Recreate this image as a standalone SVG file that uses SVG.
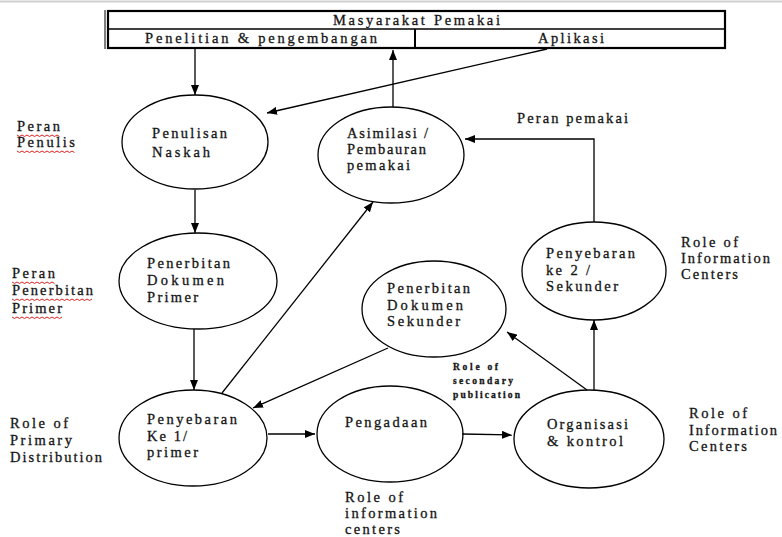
<svg xmlns="http://www.w3.org/2000/svg" width="782" height="537" viewBox="0 0 782 537">
<defs>
<marker id="arr" viewBox="0 0 10 8" refX="10" refY="4" markerWidth="10" markerHeight="8" markerUnits="userSpaceOnUse" orient="auto">
<path d="M0,0 L10,4 L0,8 z" fill="#000"/>
</marker>
<style>
text{font-family:"Liberation Serif","Times New Roman",serif;font-size:14.5px;fill:#151515;stroke:#151515;stroke-width:0.3;}
.sm{font-size:9.5px;font-weight:bold;}
.node ellipse{fill:none;stroke:#000;stroke-width:1.3;}
#connectors line,#connectors polyline{fill:none;stroke:#000;stroke-width:1.3;marker-end:url(#arr);}
.wavy{fill:none;stroke:#e02020;stroke-width:1;}
</style>
</defs>
<rect width="782" height="537" fill="#fff"/>
<line x1="0" y1="1.5" x2="782" y2="1.5" stroke="#d0d0d0" stroke-width="2"/>

<g id="table">
<rect x="108" y="11" width="617" height="37" fill="none" stroke="#000" stroke-width="2.2"/>
<line x1="105" y1="10" x2="105" y2="49" stroke="#000" stroke-width="1"/>
<line x1="108" y1="29" x2="725" y2="29" stroke="#000" stroke-width="1.6"/>
<line x1="415" y1="29" x2="415" y2="48" stroke="#000" stroke-width="2"/>
<text x="333" y="25" textLength="167" lengthAdjust="spacing">Masyarakat Pemakai</text>
<text x="145" y="43" textLength="232" lengthAdjust="spacing">Penelitian &amp; pengembangan</text>
<text x="538" y="43" textLength="66" lengthAdjust="spacing">Aplikasi</text>
</g>

<g id="connectors">
<line x1="195" y1="48" x2="195" y2="95"/>
<line x1="547" y1="49" x2="267" y2="113"/>
<line x1="393" y1="107" x2="393" y2="50"/>
<line x1="195" y1="190" x2="195" y2="233"/>
<line x1="194" y1="329" x2="194" y2="390"/>
<line x1="222" y1="393" x2="373" y2="202"/>
<line x1="388" y1="348" x2="253" y2="408"/>
<line x1="268" y1="434" x2="315" y2="434"/>
<line x1="462" y1="434" x2="512" y2="435"/>
<line x1="587" y1="390" x2="507" y2="332"/>
<line x1="594" y1="390" x2="594" y2="320"/>
<polyline points="594,222 594,139 465,139"/>
</g>

<g id="penulisan" class="node">
<ellipse cx="195" cy="142" rx="73" ry="47"/>
<text x="152" y="138" textLength="75" lengthAdjust="spacing">Penulisan</text>
<text x="152" y="157" textLength="58" lengthAdjust="spacing">Naskah</text>
</g>

<g id="penerbitan-primer" class="node">
<ellipse cx="198" cy="281" rx="79" ry="48"/>
<text x="147" y="268" textLength="83" lengthAdjust="spacing">Penerbitan</text>
<text x="147" y="285" textLength="77" lengthAdjust="spacing">Dokumen</text>
<text x="147" y="302" textLength="51" lengthAdjust="spacing">Primer</text>
</g>

<g id="asimilasi" class="node">
<ellipse cx="391" cy="155" rx="73" ry="48"/>
<text x="347" y="138" textLength="81" lengthAdjust="spacing">Asimilasi /</text>
<text x="347" y="154" textLength="79" lengthAdjust="spacing">Pembauran</text>
<text x="347" y="170" textLength="63" lengthAdjust="spacing">pemakai</text>
</g>

<g id="penyebaran2" class="node">
<ellipse cx="594" cy="271" rx="72" ry="49"/>
<text x="546" y="258" textLength="89" lengthAdjust="spacing">Penyebaran</text>
<text x="546" y="275" textLength="44" lengthAdjust="spacing">ke 2 /</text>
<text x="546" y="291" textLength="72" lengthAdjust="spacing">Sekunder</text>
</g>

<g id="penerbitan-sekunder" class="node">
<ellipse cx="434" cy="309" rx="72" ry="48"/>
<text x="387" y="293" textLength="83" lengthAdjust="spacing">Penerbitan</text>
<text x="387" y="310" textLength="76" lengthAdjust="spacing">Dokumen</text>
<text x="387" y="326" textLength="73" lengthAdjust="spacing">Sekunder</text>
</g>

<g id="penyebaran1" class="node">
<ellipse cx="193" cy="438" rx="74" ry="48"/>
<text x="147" y="424" textLength="90" lengthAdjust="spacing">Penyebaran</text>
<text x="147" y="441" textLength="40" lengthAdjust="spacing">Ke 1/</text>
<text x="147" y="457" textLength="51" lengthAdjust="spacing">primer</text>
</g>

<g id="pengadaan" class="node">
<ellipse cx="390" cy="434" rx="73" ry="48"/>
<text x="345" y="427" textLength="82" lengthAdjust="spacing">Pengadaan</text>
</g>

<g id="organisasi" class="node">
<ellipse cx="589" cy="439" rx="75" ry="49"/>
<text x="547" y="429" textLength="81" lengthAdjust="spacing">Organisasi</text>
<text x="547" y="446" textLength="76" lengthAdjust="spacing">&amp; kontrol</text>
</g>

<g id="labels">
<text x="17" y="131" textLength="43" lengthAdjust="spacing">Peran</text>
<text x="17" y="147" textLength="58" lengthAdjust="spacing">Penulis</text>
<path class="wavy" d="M17,135 l2.5,1.5 l2.5,-1.5 l2.5,1.5 l2.5,-1.5 l2.5,1.5 l2.5,-1.5 l2.5,1.5 l2.5,-1.5 l2.5,1.5 l2.5,-1.5 l2.5,1.5 l2.5,-1.5 l2.5,1.5 l2.5,-1.5 l2.5,1.5 l2.5,-1.5 l2.5,1.5"/>
<path class="wavy" d="M17,151 l2.5,1.5 l2.5,-1.5 l2.5,1.5 l2.5,-1.5 l2.5,1.5 l2.5,-1.5 l2.5,1.5 l2.5,-1.5 l2.5,1.5 l2.5,-1.5 l2.5,1.5 l2.5,-1.5 l2.5,1.5 l2.5,-1.5 l2.5,1.5 l2.5,-1.5 l2.5,1.5 l2.5,-1.5 l2.5,1.5 l2.5,-1.5 l2.5,1.5 l2.5,-1.5 l2.5,1.5"/>
<text x="12" y="278" textLength="43" lengthAdjust="spacing">Peran</text>
<text x="12" y="295" textLength="81" lengthAdjust="spacing">Penerbitan</text>
<text x="12" y="313" textLength="50" lengthAdjust="spacing">Primer</text>
<path class="wavy" d="M12,282 l2.5,1.5 l2.5,-1.5 l2.5,1.5 l2.5,-1.5 l2.5,1.5 l2.5,-1.5 l2.5,1.5 l2.5,-1.5 l2.5,1.5 l2.5,-1.5 l2.5,1.5 l2.5,-1.5 l2.5,1.5 l2.5,-1.5 l2.5,1.5 l2.5,-1.5 l2.5,1.5"/>
<path class="wavy" d="M12,299 l2.5,1.5 l2.5,-1.5 l2.5,1.5 l2.5,-1.5 l2.5,1.5 l2.5,-1.5 l2.5,1.5 l2.5,-1.5 l2.5,1.5 l2.5,-1.5 l2.5,1.5 l2.5,-1.5 l2.5,1.5 l2.5,-1.5 l2.5,1.5 l2.5,-1.5 l2.5,1.5 l2.5,-1.5 l2.5,1.5 l2.5,-1.5 l2.5,1.5 l2.5,-1.5 l2.5,1.5 l2.5,-1.5 l2.5,1.5 l2.5,-1.5 l2.5,1.5 l2.5,-1.5 l2.5,1.5 l2.5,-1.5 l2.5,1.5 l2.5,-1.5"/>
<path class="wavy" d="M12,317 l2.5,1.5 l2.5,-1.5 l2.5,1.5 l2.5,-1.5 l2.5,1.5 l2.5,-1.5 l2.5,1.5 l2.5,-1.5 l2.5,1.5 l2.5,-1.5 l2.5,1.5 l2.5,-1.5 l2.5,1.5 l2.5,-1.5 l2.5,1.5 l2.5,-1.5 l2.5,1.5 l2.5,-1.5 l2.5,1.5 l2.5,-1.5"/>
<text x="517" y="123" textLength="111" lengthAdjust="spacing">Peran pemakai</text>
<text x="681" y="247" textLength="57" lengthAdjust="spacing">Role of</text>
<text x="681" y="263" textLength="89" lengthAdjust="spacing">Information</text>
<text x="681" y="279" textLength="57" lengthAdjust="spacing">Centers</text>
<text class="sm" x="453" y="370" textLength="45" lengthAdjust="spacing">Role of</text>
<text class="sm" x="453" y="384" textLength="60" lengthAdjust="spacing">secondary</text>
<text class="sm" x="453" y="398" textLength="67" lengthAdjust="spacing">publication</text>
<text x="10" y="428" textLength="58" lengthAdjust="spacing">Role of</text>
<text x="10" y="445" textLength="62" lengthAdjust="spacing">Primary</text>
<text x="10" y="462" textLength="92" lengthAdjust="spacing">Distribution</text>
<text x="345" y="502" textLength="58" lengthAdjust="spacing">Role of</text>
<text x="345" y="518" textLength="92" lengthAdjust="spacing">information</text>
<text x="345" y="534" textLength="55" lengthAdjust="spacing">centers</text>
<text x="689" y="418" textLength="58" lengthAdjust="spacing">Role of</text>
<text x="689" y="435" textLength="88" lengthAdjust="spacing">Information</text>
<text x="689" y="451" textLength="58" lengthAdjust="spacing">Centers</text>
</g>
</svg>
